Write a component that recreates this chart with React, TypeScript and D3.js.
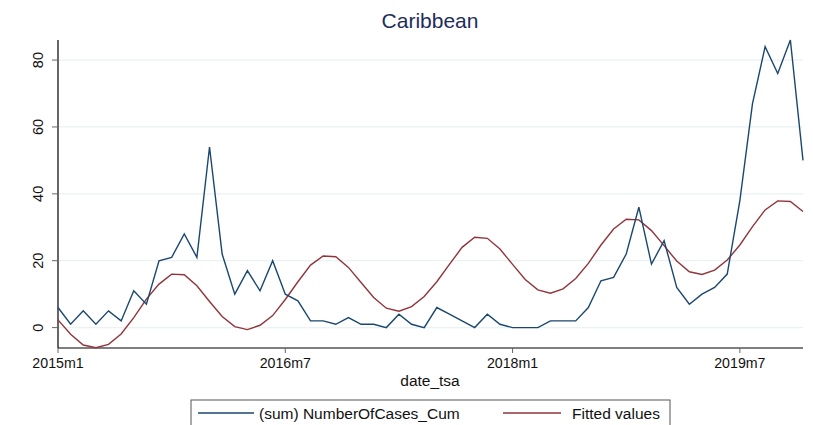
import { useEffect, useRef } from "react";
import * as d3 from "d3";

// monthly series 2015m1 .. 2019m12
const startYear = 2015;
const cases = [
  6, 1, 5, 1, 5, 2, 11, 7, 20, 21, 28, 21,
  54, 22, 10, 17, 11, 20, 10, 8, 2, 2, 1, 3,
  1, 1, 0, 4, 1, 0, 6, 4, 2, 0, 4, 1,
  0, 0, 0, 2, 2, 2, 6, 14, 15, 22, 36, 19,
  26, 12, 7, 10, 12, 16, 38, 67, 84, 76, 86, 50,
];
const fitted = [
  2.3, -2, -5.2, -6, -5, -1.9, 3, 8.5, 13, 16, 15.8, 12.5,
  7.8, 3.3, 0.3, -0.6, 0.7, 3.6, 8.4, 13.7, 18.7, 21.4, 21.2, 18,
  13.5, 9, 5.8, 4.9, 6.3, 9.3, 13.7, 18.9, 24, 27, 26.7, 23.5,
  18.9, 14.4, 11.3, 10.3, 11.6, 14.7, 19.2, 24.7, 29.5, 32.4, 32.2, 29,
  24.5, 19.9, 16.7, 15.9, 17.2, 20.2, 24.7, 30.2, 35.2, 37.9, 37.7, 34.7,
];
const xTicks = [0, 18, 36, 54];
const yTicks = [0, 20, 40, 60, 80];

const monthLabel = (i: number) => `${startYear + Math.floor(i / 12)}m${(i % 12) + 1}`;

export default function App() {
  const ref = useRef<SVGSVGElement>(null);

  useEffect(() => {
    if (!ref.current) return;
    const svg = d3.select(ref.current);
    svg.selectAll("*").remove();

    const left = 58, right = 803, top = 40, bottom = 348;
    const x = d3.scaleLinear().domain([0, 59]).range([left, right]);
    const y = d3.scaleLinear().domain([-6.1, 86]).range([bottom, top]);
    const font = "'Liberation Sans', Arial, sans-serif";

    svg.append("rect").attr("width", 813).attr("height", 425).attr("fill", "#fff");

    // title
    svg.append("text")
      .attr("x", 430).attr("y", 28)
      .attr("text-anchor", "middle")
      .attr("font-family", font).attr("font-size", 21)
      .attr("fill", "#1e2d5c")
      .text("Caribbean");

    // grid
    svg.append("g").selectAll("line").data(yTicks).enter().append("line")
      .attr("x1", left).attr("x2", right)
      .attr("y1", (d) => y(d)).attr("y2", (d) => y(d))
      .attr("stroke", "#eaf2f3").attr("stroke-width", 1.2);

    // y axis
    svg.append("line").attr("x1", left).attr("x2", left).attr("y1", top).attr("y2", bottom)
      .attr("stroke", "#000").attr("stroke-width", 1.2);
    const yt = svg.append("g").selectAll("g").data(yTicks).enter().append("g");
    yt.append("line")
      .attr("x1", left - 6).attr("x2", left)
      .attr("y1", (d) => y(d)).attr("y2", (d) => y(d))
      .attr("stroke", "#666").attr("stroke-width", 1);
    yt.append("text")
      .attr("transform", (d) => `translate(43,${y(d)}) rotate(-90)`)
      .attr("text-anchor", "middle")
      .attr("font-family", font).attr("font-size", 14.5)
      .attr("fill", "#111")
      .text((d) => d);

    // x axis
    svg.append("line").attr("x1", left).attr("x2", right).attr("y1", bottom).attr("y2", bottom)
      .attr("stroke", "#000").attr("stroke-width", 1.2);
    const xt = svg.append("g").selectAll("g").data(xTicks).enter().append("g");
    xt.append("line")
      .attr("x1", (d) => x(d)).attr("x2", (d) => x(d))
      .attr("y1", bottom).attr("y2", bottom + 5)
      .attr("stroke", "#666").attr("stroke-width", 1);
    xt.append("text")
      .attr("x", (d) => x(d)).attr("y", 368)
      .attr("text-anchor", "middle")
      .attr("font-family", font).attr("font-size", 14.2)
      .attr("fill", "#111")
      .text((d) => monthLabel(d));
    svg.append("text")
      .attr("x", 430).attr("y", 386)
      .attr("text-anchor", "middle")
      .attr("font-family", font).attr("font-size", 15.5)
      .attr("fill", "#111")
      .text("date_tsa");

    // lines
    const line = d3.line<number>().x((_, i) => x(i)).y((d) => y(d));
    svg.append("path").datum(fitted).attr("d", line)
      .attr("fill", "none").attr("stroke", "#90353b").attr("stroke-width", 1.4);
    svg.append("path").datum(cases).attr("d", line)
      .attr("fill", "none").attr("stroke", "#1a476f").attr("stroke-width", 1.4);

    // legend
    svg.append("rect")
      .attr("x", 191).attr("y", 400).attr("width", 479).attr("height", 40)
      .attr("fill", "#fff").attr("stroke", "#555").attr("stroke-width", 1);
    const items = [
      { label: "(sum) NumberOfCases_Cum", color: "#1a476f", x0: 198, x1: 254, tx: 259 },
      { label: "Fitted values", color: "#90353b", x0: 503, x1: 561, tx: 572 },
    ];
    const lg = svg.append("g").selectAll("g").data(items).enter().append("g");
    lg.append("line")
      .attr("x1", (d) => d.x0).attr("x2", (d) => d.x1)
      .attr("y1", 413).attr("y2", 413)
      .attr("stroke", (d) => d.color).attr("stroke-width", 1.4);
    lg.append("text")
      .attr("x", (d) => d.tx).attr("y", 419)
      .attr("font-family", font).attr("font-size", 15.5)
      .attr("fill", "#111")
      .text((d) => d.label);
  }, []);

  return (
    <svg
      ref={ref}
      width={813}
      height={425}
      style={{ position: "absolute", left: 0, top: 0, display: "block" }}
    />
  );
}
